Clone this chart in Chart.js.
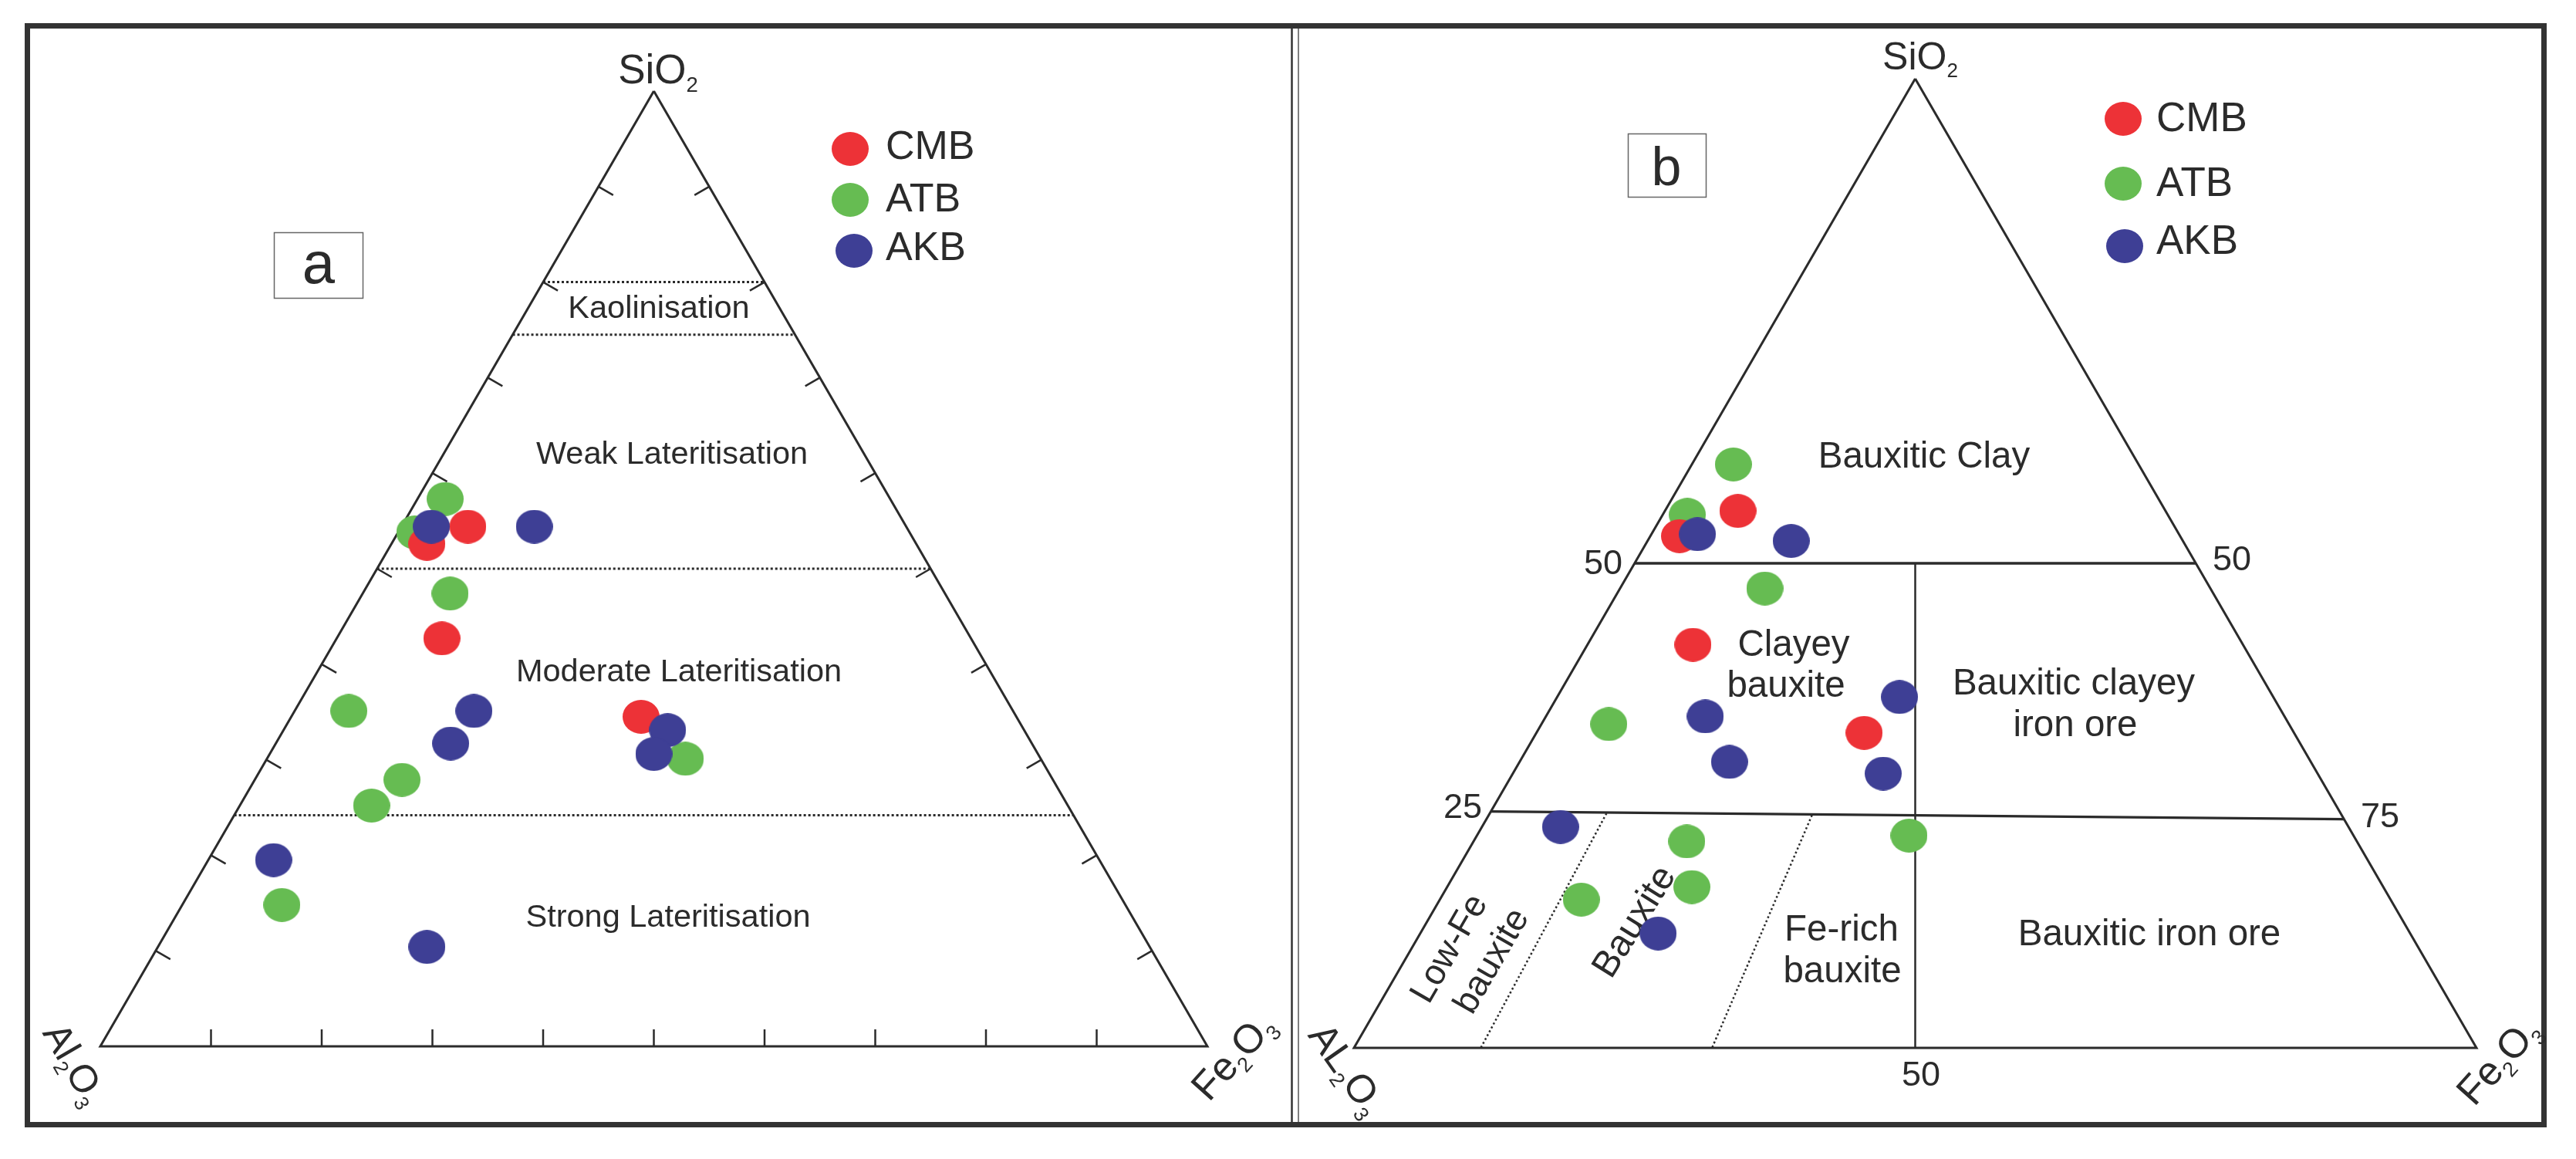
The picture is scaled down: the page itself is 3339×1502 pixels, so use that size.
<!DOCTYPE html>
<html>
<head>
<meta charset="utf-8">
<script src="https://cdn.jsdelivr.net/npm/chart.js@4.4.1/dist/chart.umd.min.js"></script>
<style>
  html, body { margin: 0; padding: 0; background: #fff; }
  #plot { display: block; }
</style>
</head>
<body>
<canvas id="plot" width="3339" height="1502"></canvas>
<script>
// sample groups, legend order
const groups = ['CMB', 'ATB', 'AKB'];
const groupColors = ['#ed3237', '#66bc52', '#3e3f95'];

// (a) SiO2 - Al2O3 - Fe2O3, wt %
const aCmbSiO2 = [52.6, 54.4, 42.7, 34.5];
const aCmbAl2O3 = [44.2, 39.6, 47.8, 33.9];
const aCmbFe2O3 = [3.2, 6.0, 9.5, 31.6];

const aAtbSiO2 = [57.3, 53.8, 47.4, 35.1, 27.9, 25.2, 14.8, 30.1];
const aAtbAl2O3 = [40.2, 44.7, 44.7, 60.0, 58.8, 62.9, 76.2, 32.1];
const aAtbFe2O3 = [2.5, 1.5, 7.9, 4.9, 13.3, 11.9, 9.0, 37.8];

const aAkbSiO2 = [54.4, 54.4, 35.1, 31.7, 33.1, 30.6, 19.5, 10.4];
const aAkbAl2O3 = [42.9, 33.6, 48.7, 52.5, 32.2, 34.7, 74.6, 65.3];
const aAkbFe2O3 = [2.7, 12.0, 16.2, 15.8, 34.7, 34.7, 5.9, 24.3];

// (a) lateritisation zone limits (SiO2 %) and edge ticks
const aZoneSiO2 = [80, 74.5, 50, 24.2];
const aZoneNames = ['Kaolinisation', 'Weak Lateritisation', 'Moderate Lateritisation', 'Strong Lateritisation'];
const aTicks = [10, 20, 30, 40, 50, 60, 70, 80, 90];

// (b) same oxides, wt %
const bCmbSiO2 = [55.4, 52.8, 41.6, 32.5];
const bCmbAl2O3 = [38.1, 44.6, 49.0, 38.3];
const bCmbFe2O3 = [6.5, 2.6, 9.4, 29.2];

const bAtbSiO2 = [60.2, 55.0, 47.4, 33.4, 21.3, 16.6, 15.3, 21.9];
const bAtbAl2O3 = [36.1, 42.8, 39.7, 60.6, 59.7, 61.6, 72.1, 39.6];
const bAtbFe2O3 = [3.7, 2.2, 12.9, 6.0, 19.0, 21.8, 12.6, 38.5];

const bAkbSiO2 = [53.0, 52.3, 36.2, 34.2, 29.5, 28.3, 22.8, 11.8];
const bAkbAl2O3 = [42.9, 34.9, 33.3, 51.6, 51.8, 38.7, 70.2, 67.0];
const bAkbFe2O3 = [4.1, 12.8, 30.5, 14.2, 18.7, 33.0, 7.0, 21.2];

// (b) field boundaries, end points as [SiO2, Fe2O3]
const bSolidLines = [
  [[50, 0], [50, 50]],
  [[24.4, 0], [23.6, 76.4]],
  [[50, 25], [0, 50]],
];
const bDottedLines = [
  [[24.2, 10.4], [0, 11.3]],
  [[24.0, 28.8], [0, 31.9]],
];
const bFieldNames = ['Bauxitic Clay', 'Clayey', 'bauxite', 'Bauxitic clayey', 'iron ore', 'Fe-rich', 'bauxite', 'Bauxitic iron ore'];
const bTurnedNames = ['Low-Fe', 'bauxite', 'Bauxite'];
const bEdgeLabels = ['50', '50', '25', '75', '50'];

// ---- layout ----
const W = 3339, H = 1502;
const INK = '#2b2b2b';
const FONT = '"Liberation Sans", Arial, Helvetica, sans-serif';
const frameA = { left: 130, right: 1565, base: 1356, top: 118 };
const frameB = { left: 1755, right: 3210, base: 1358, top: 102 };
const drawOrder = [2, 3, 1]; // blue on top, green at the back

const gap = () => ({ x: null, y: null });

function toXY(si, fe, al) {
  const total = si + fe + (al == null ? 100 - si - fe : al);
  return { x: (fe + si / 2) * 100 / total, y: si * 100 / total };
}

function dotImage(color) {
  const c = document.createElement('canvas');
  c.width = 48; c.height = 44;
  const g = c.getContext('2d');
  g.fillStyle = color;
  g.beginPath();
  g.ellipse(24, 22, 24, 22, 0, 0, Math.PI * 2);
  g.fill();
  return c;
}
const dots = groupColors.map(dotImage);

function xScale(f) {
  const k = (f.right - f.left) / 100, min = -f.left / k;
  return { type: 'linear', display: false, min, max: min + W / k };
}
function yScale(f) {
  const k = (f.base - f.top) / 100, max = f.base / k;
  return { type: 'linear', display: false, min: max - H / k, max };
}

function pathSet(points, panel, width, dash) {
  return {
    type: 'scatter', showLine: true, data: points,
    xAxisID: 'x' + panel, yAxisID: 'y' + panel,
    borderColor: INK, borderWidth: width, borderDash: dash || [],
    pointRadius: 0, pointHoverRadius: 0, spanGaps: false, order: 10,
  };
}

function segmentPoints(pairs) {
  const out = [];
  pairs.forEach(([p, q]) => out.push(toXY(p[0], p[1]), toXY(q[0], q[1]), gap()));
  return out;
}

const outline = [toXY(100, 0), toXY(0, 0), toXY(0, 100), toXY(100, 0)];

function tickPoints(f) {
  const kx = (f.right - f.left) / 100, ky = (f.base - f.top) / 100;
  const L = 22, c = Math.cos(Math.PI / 6), s = 0.5;
  const out = [];
  aTicks.forEach(t => {
    const b = toXY(0, t);
    out.push(b, { x: b.x, y: b.y + L / ky }, gap());
    const l = toXY(t, 0);
    out.push(l, { x: l.x + c * L / kx, y: l.y - s * L / ky }, gap());
    const r = toXY(t, 100 - t);
    out.push(r, { x: r.x - c * L / kx, y: r.y - s * L / ky }, gap());
  });
  return out;
}

function groupSet(i, panel, si, al, fe) {
  return {
    type: 'scatter', label: groups[i],
    data: si.map((v, j) => toXY(v, fe[j], al[j])),
    xAxisID: 'x' + panel, yAxisID: 'y' + panel,
    pointStyle: dots[i], pointRadius: 22, pointHoverRadius: 22,
    backgroundColor: groupColors[i], borderWidth: 0, order: drawOrder[i],
  };
}

const datasets = [
  // panel a
  pathSet(outline, 'a', 3),
  pathSet(tickPoints(frameA), 'a', 2.5),
  pathSet(segmentPoints(aZoneSiO2.map(s => [[s, 0], [s, 100 - s]])), 'a', 3, [3, 3]),
  groupSet(0, 'a', aCmbSiO2, aCmbAl2O3, aCmbFe2O3),
  groupSet(1, 'a', aAtbSiO2, aAtbAl2O3, aAtbFe2O3),
  groupSet(2, 'a', aAkbSiO2, aAkbAl2O3, aAkbFe2O3),
  // panel b
  pathSet(outline, 'b', 3),
  pathSet(segmentPoints(bSolidLines.slice(0, 2)), 'b', 3.3),
  pathSet(segmentPoints(bSolidLines.slice(2)), 'b', 2.5),
  pathSet(segmentPoints(bDottedLines), 'b', 2.5, [2.5, 3.2]),
  groupSet(0, 'b', bCmbSiO2, bCmbAl2O3, bCmbFe2O3),
  groupSet(1, 'b', bAtbSiO2, bAtbAl2O3, bAtbFe2O3),
  groupSet(2, 'b', bAkbSiO2, bAkbAl2O3, bAkbFe2O3),
];

// ---- text helpers ----
function label(ctx, str, x, y, size, align) {
  ctx.font = size + 'px ' + FONT;
  ctx.textAlign = align || 'center';
  ctx.textBaseline = 'alphabetic';
  ctx.fillText(str, x, y);
}

function turned(ctx, str, cx, cy, size, deg) {
  ctx.save();
  ctx.translate(cx, cy);
  ctx.rotate(deg * Math.PI / 180);
  label(ctx, str, 0, size * 0.36, size);
  ctx.restore();
}

// chemical formula, digits set as subscripts; (cx, cy) is the visual centre
function formula(ctx, parts, cx, cy, size, deg) {
  const sub = size * 0.52;
  const isSub = p => /^\d$/.test(p);
  ctx.save();
  ctx.translate(cx, cy);
  ctx.rotate(deg * Math.PI / 180);
  const widths = parts.map(p => {
    ctx.font = (isSub(p) ? sub : size) + 'px ' + FONT;
    return ctx.measureText(p).width;
  });
  let x = -widths.reduce((a, b) => a + b, 0) / 2;
  const base = size * 0.36;
  ctx.textAlign = 'left';
  ctx.textBaseline = 'alphabetic';
  parts.forEach((p, i) => {
    ctx.font = (isSub(p) ? sub : size) + 'px ' + FONT;
    ctx.fillText(p, x, isSub(p) ? base + size * 0.2 : base);
    x += widths[i];
  });
  ctx.restore();
}

function legend(ctx, at, textX, baselines, size) {
  groups.forEach((g, i) => {
    const d = dots[i];
    ctx.drawImage(d, at[i][0] - d.width / 2, at[i][1] - d.height / 2);
    label(ctx, g, textX, baselines[i], size, 'left');
  });
}

const aZoneAt = [[854, 412], [871, 601], [880, 883], [866, 1201]];
const bFieldAt = [[2494, 606], [2325, 850], [2315, 903], [2688, 900], [2690, 954], [2387, 1219], [2388, 1273], [2786, 1225]];
const bTurnedAt = [[1876, 1228, -60], [1931, 1244, -60], [2116, 1193, -58]];
const bEdgeAt = [[2078, 728], [2893, 723], [1896, 1044], [3085, 1056], [2490, 1391]];

const decor = {
  id: 'decor',
  beforeDraw(chart) {
    const ctx = chart.ctx;
    ctx.save();
    ctx.fillStyle = '#fff';
    ctx.fillRect(0, 0, W, H);
    ctx.restore();
  },
  beforeDatasetsDraw(chart) {
    const ctx = chart.ctx;
    ctx.save();
    // outer frame and the double rule between panels
    ctx.strokeStyle = '#333';
    ctx.lineWidth = 7;
    ctx.strokeRect(35.5, 33.5, 3262, 1424);
    ctx.lineWidth = 2.5;
    ctx.beginPath(); ctx.moveTo(1674.5, 37); ctx.lineTo(1674.5, 1454); ctx.stroke();
    ctx.lineWidth = 1.5;
    ctx.strokeStyle = '#555';
    ctx.beginPath(); ctx.moveTo(1683, 37); ctx.lineTo(1683, 1454); ctx.stroke();
    // panel letters
    ctx.strokeStyle = '#666';
    ctx.lineWidth = 1.5;
    ctx.strokeRect(355.5, 301.5, 115, 85);
    ctx.strokeRect(2110.5, 173.5, 101, 82);
    ctx.fillStyle = INK;
    label(ctx, 'a', 413, 367, 76);
    label(ctx, 'b', 2160, 240, 70);

    // panel a
    formula(ctx, ['SiO', '2'], 853, 89, 53, 0);
    formula(ctx, ['Al', '2', 'O', '3'], 98, 1378, 50, 60);
    formula(ctx, ['Fe', '2', 'O', '3'], 1597, 1368, 52, -48);
    aZoneNames.forEach((n, i) => label(ctx, n, aZoneAt[i][0], aZoneAt[i][1], 41.5));

    // panel b
    formula(ctx, ['SiO', '2'], 2489, 72, 50, 0);
    formula(ctx, ['AL', '2', 'O', '3'], 1747, 1385, 51, 55);
    formula(ctx, ['Fe', '2', 'O', '3'], 3237, 1374, 52, -48);
    bFieldNames.forEach((n, i) => label(ctx, n, bFieldAt[i][0], bFieldAt[i][1], 47.5));
    bTurnedNames.forEach((n, i) => turned(ctx, n, bTurnedAt[i][0], bTurnedAt[i][1], i < 2 ? 46 : 48, bTurnedAt[i][2]));
    bEdgeLabels.forEach((n, i) => label(ctx, n, bEdgeAt[i][0], bEdgeAt[i][1] + 16, 45));
    ctx.restore();
  },
  afterDatasetsDraw(chart) {
    const ctx = chart.ctx;
    ctx.save();
    ctx.fillStyle = INK;
    legend(ctx, [[1102, 193], [1102, 259], [1107, 325]], 1148, [206, 274, 337], 52);
    legend(ctx, [[2752, 154], [2752, 238], [2754, 319]], 2795, [170, 254, 329], 53);
    ctx.restore();
  },
};

new Chart(document.getElementById('plot'), {
  type: 'scatter',
  data: { datasets },
  options: {
    responsive: false,
    maintainAspectRatio: false,
    devicePixelRatio: 1,
    animation: false,
    events: [],
    layout: { padding: 0, autoPadding: false },
    plugins: { legend: { display: false }, tooltip: { enabled: false } },
    scales: {
      xa: xScale(frameA),
      ya: yScale(frameA),
      xb: xScale(frameB),
      yb: yScale(frameB),
    },
  },
  plugins: [decor],
});
</script>
</body>
</html>
